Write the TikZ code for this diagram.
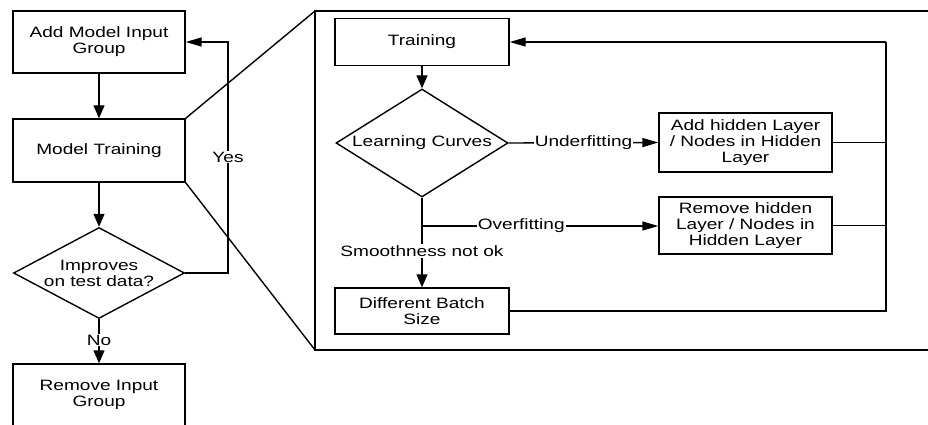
\documentclass[tikz,border=0pt]{standalone}
\usepackage{fontspec}
\setmainfont{Liberation Sans}[FakeStretch=1.27]
\usetikzlibrary{shapes.geometric,arrows.meta}
\begin{document}
\begin{tikzpicture}[x=1pt,y=-1pt,line width=1.4pt,
  txt/.style={font=\fontsize{15}{16}\selectfont},
  box/.style={draw,txt,inner sep=0pt,align=center,minimum width=172pt,minimum height=62pt},
  dia/.style={draw,diamond,inner sep=0pt},
  lbl/.style={txt,fill=white,inner sep=1pt},
  varr/.style={-{Triangle[length=13pt,width=11pt]}},
  harr/.style={-{Triangle[length=16pt,width=9pt]}}]
\useasboundingbox (0,0) rectangle (928,425);
% left column
\node[box] (add) at (99,42) {Add Model Input\\Group};
\node[box,minimum height=63pt] (train) at (99,150.5) {Model Training};
\node[dia,minimum width=171pt,minimum height=91pt,
  label={[txt,align=center]center:{Improves\\on test data?}}] (imp) at (99,273) {};
\node[box] (rem) at (99,395) {Remove Input\\Group};
\coordinate (yc) at (228,42);
\draw[varr] (add) -- (train);
\draw[varr] (train) -- (imp.north);
\draw[harr] (imp.east) -| (yc) -- (add.east);
\node[lbl] (yes) at (228,157) {Yes};
\draw[varr] (imp.south) -- (rem.north);
\node[lbl] (no) at (99,340) {No};
% zoom frame
\coordinate (ftl) at (315,11);
\coordinate (fbl) at (315,350);
\coordinate (ftr) at (940,11);
\coordinate (fbr) at (940,350);
\draw (ftr) -- (ftl) -- (fbl) -- (fbr);
\draw (train.north east) -- (ftl);
\draw (train.south east) -- (fbl);
% inner flow
\node[box,minimum width=174pt,minimum height=47pt] (tr) at (422,42) {Training};
\node[dia,minimum width=172pt,minimum height=108pt,
  label={[txt]center:Learning Curves}] (lc) at (422,143) {};
\node[box,minimum width=173pt,minimum height=59pt] (ah) at (745.5,142.5) {Add hidden Layer\\/ Nodes in Hidden\\Layer};
\node[box,minimum width=173pt,minimum height=57pt] (rh) at (745.5,225.5) {Remove hidden\\Layer / Nodes in\\Hidden Layer};
\node[box,minimum width=174pt,minimum height=46pt] (bs) at (422,311) {Different Batch\\Size};
\coordinate (rt) at (886,42);
\coordinate (rb) at (886,311);
\coordinate (ov) at (422,226);
\draw[varr] (tr) -- (lc.north);
\draw[harr] (lc.east) -- node[lbl] (uf) {Underfitting} (ah.west);
\draw (lc.south) -- (ov);
\draw[harr] (ov) -- node[lbl,pos=0.42] (of) {Overfitting} (ov -| rh.west);
\draw[varr] (ov) -- (bs.north);
\node[lbl] (sm) at (422,251) {Smoothness not ok};
\draw (bs.east) -- (rb) -- (rt);
\draw[harr] (rt) -- (tr.east);
\draw (ah.east) -- (ah.east -| rt);
\draw (rh.east) -- (rh.east -| rt);
\end{tikzpicture}
\end{document}
